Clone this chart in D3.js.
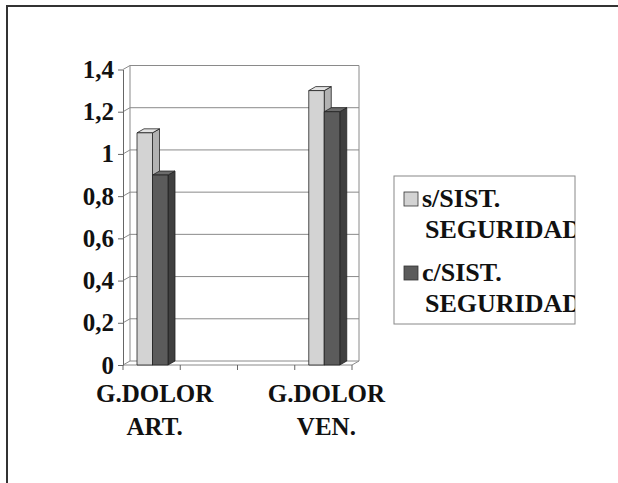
<!DOCTYPE html>
<html>
<head>
<meta charset="utf-8">
<script src="https://cdn.jsdelivr.net/npm/d3@7"></script>
<style>
  body { margin: 0; background: #fff; }
</style>
</head>
<body>
<svg width="618" height="483"></svg>
<script>
// data (the two middle categories are empty in the original)
var categories = ["G.DOLOR ART.", "", "", "G.DOLOR VEN."];
var seriesNames = ["s/SIST. SEGURIDAD", "c/SIST. SEGURIDAD"];
var sinSistema = [1.1, null, null, 1.3];
var conSistema = [0.9, null, null, 1.2];
var yTicks = [0, 0.2, 0.4, 0.6, 0.8, 1, 1.2, 1.4];
var yTickLabels = ["0", "0,2", "0,4", "0,6", "0,8", "1", "1,2", "1,4"];

var series = [sinSistema, conSistema];
var colors = [
  {front: "#d3d3d3", top: "#e4e4e4", side: "#b2b2b2"},
  {front: "#5b5b5b", top: "#6c6c6c", side: "#3f3f3f"}
];
var FONT = "Liberation Serif, Times New Roman, serif";

var svg = d3.select("svg");
var dx = 7, dy = -4;   // depth offset of the 3d look

function styleText(sel, size) {
  sel.attr("font-family", FONT).attr("font-weight", "bold")
     .attr("font-size", size).attr("fill", "#111");
}

// outer frame
svg.append("rect")
  .attr("x", 7).attr("y", 6).attr("width", 640).attr("height", 500)
  .attr("fill", "none").attr("stroke", "#333").attr("stroke-width", 2);

var x = d3.scaleBand().domain(d3.range(categories.length)).range([123, 352]);
var xInner = d3.scaleBand().domain([0, 1]).range([14, 45]);
var y = d3.scaleLinear().domain([0, 1.4]).range([365, 69.5]);

var grid = svg.append("g").attr("stroke", "#8a8a8a").attr("stroke-width", 1).attr("fill", "none");
var x0 = x.range()[0], x1 = x.range()[1];

// back wall gridlines and walls
yTicks.forEach(function(t) {
  grid.append("path").attr("d", "M" + x0 + "," + y(t) + "L" + (x0 + dx) + "," + (y(t) + dy) + "L" + (x1 + dx) + "," + (y(t) + dy));
});
grid.append("path").attr("d", "M" + (x0 + dx) + "," + (y(0) + dy) + "V" + (y(1.4) + dy));
grid.append("path").attr("d", "M" + (x1 + dx) + "," + (y(0) + dy) + "V" + (y(1.4) + dy));
// floor front edge
grid.append("path").attr("d", "M" + x0 + "," + y(0) + "H" + x1 + "L" + (x1 + dx) + "," + (y(0) + dy));

// y axis
var yAxis = svg.append("g")
  .attr("transform", "translate(" + x0 + ",0)")
  .call(d3.axisLeft(y).tickValues(yTicks).tickSize(5).tickSizeOuter(0).tickPadding(4)
    .tickFormat(function(d, i) { return yTickLabels[i]; }));
yAxis.attr("font-family", FONT);
yAxis.select(".domain").attr("stroke", "#666");
yAxis.selectAll(".tick line").attr("stroke", "#666");
styleText(yAxis.selectAll("text"), 25);

// x ticks at band edges
var xt = x.domain().map(function(i) { return x(i); }).concat([x1]);
svg.append("g").selectAll("line").data(xt).enter().append("line")
  .attr("x1", function(d) { return d; }).attr("x2", function(d) { return d; })
  .attr("y1", y(0)).attr("y2", y(0) + 5)
  .attr("stroke", "#666");

// bars
var bars = svg.append("g").attr("stroke", "#222").attr("stroke-width", 0.8).attr("stroke-linejoin", "round");
categories.forEach(function(c, i) {
  series.forEach(function(s, k) {
    var v = s[i];
    if (v == null) return;
    var bx = x(i) + xInner(k), bw = xInner.bandwidth();
    var top = y(v), bot = y(0);
    bars.append("path").attr("fill", colors[k].side)
      .attr("d", "M" + (bx + bw) + "," + bot + "L" + (bx + bw + dx) + "," + (bot + dy) + "V" + (top + dy) + "L" + (bx + bw) + "," + top + "Z");
    bars.append("path").attr("fill", colors[k].top)
      .attr("d", "M" + bx + "," + top + "L" + (bx + dx) + "," + (top + dy) + "H" + (bx + bw + dx) + "L" + (bx + bw) + "," + top + "Z");
    bars.append("rect").attr("fill", colors[k].front)
      .attr("x", bx).attr("y", top).attr("width", bw).attr("height", bot - top);
  });
});

// category labels
var labels = svg.append("g").attr("text-anchor", "middle");
categories.forEach(function(c, i) {
  if (!c) return;
  var words = c.split(" ");
  var cx = x(i) + x.bandwidth() / 2 + 3;
  words.forEach(function(w, j) {
    labels.append("text").attr("x", cx).attr("y", 402 + j * 33).text(w);
  });
});
styleText(labels.selectAll("text"), 25);

// legend
svg.append("clipPath").attr("id", "legclip")
  .append("rect").attr("x", 394).attr("y", 176).attr("width", 181).attr("height", 148);
var leg = svg.append("g");
leg.append("rect").attr("x", 394).attr("y", 176).attr("width", 181).attr("height", 148)
  .attr("fill", "#fff").attr("stroke", "#888");
var legText = leg.append("g").attr("clip-path", "url(#legclip)");
seriesNames.forEach(function(n, k) {
  var yy = 207 + k * 74;
  leg.append("rect").attr("x", 404).attr("y", yy - 15).attr("width", 14).attr("height", 14)
    .attr("fill", colors[k].front).attr("stroke", "#333").attr("stroke-width", 0.8);
  var parts = n.split(" ");
  legText.append("text").attr("x", 422).attr("y", yy).text(parts[0]);
  legText.append("text").attr("x", 425).attr("y", yy + 31).text(parts[1]);
});
styleText(legText.selectAll("text"), 26);
</script>
</body>
</html>
